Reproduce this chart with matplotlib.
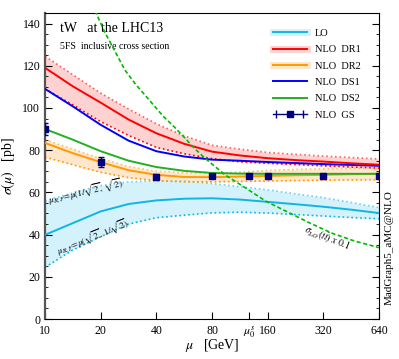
import matplotlib
matplotlib.use("Agg")
import matplotlib.pyplot as plt
from matplotlib.lines import Line2D
from matplotlib.legend_handler import HandlerLine2D, HandlerTuple
from matplotlib.ticker import MultipleLocator

plt.rcParams['font.family'] = ['Liberation Serif', 'DejaVu Serif']
plt.rcParams['mathtext.fontset'] = 'stix'

# scale grid (GeV) at half-doubling steps
mu = [10, 14.1, 20, 28.3, 40, 56.6, 80, 113, 160, 226, 320, 453, 640]

lo_c = [39.9, 45.4, 51.0, 54.5, 56.2, 57.0, 57.2, 56.6, 55.5, 54.4, 53.2, 51.8, 50.2]
lo_up = [56.0, 59.7, 63.2, 65.0, 65.5, 65.3, 64.2, 62.7, 61.2, 59.3, 57.5, 55.2, 52.8]
lo_dn = [24.5, 32.7, 39.0, 45.0, 48.0, 49.2, 50.3, 50.6, 50.2, 49.5, 48.8, 48.1, 47.5]

dr1_c = [119.0, 110.3, 102.5, 94.5, 88.0, 83.0, 79.3, 77.5, 76.2, 75.3, 74.6, 73.8, 73.1]
dr1_up = [124.5, 115.8, 107.0, 99.5, 92.5, 86.8, 82.3, 80.5, 78.9, 78.0, 77.2, 76.5, 75.8]
dr1_dn = [109.0, 101.5, 93.5, 87.0, 81.3, 78.3, 76.0, 74.5, 73.8, 73.2, 72.6, 72.0, 71.5]

dr2_c = [83.4, 78.6, 74.3, 70.5, 68.3, 67.3, 67.2, 67.5, 67.8, 68.1, 68.3, 68.6, 68.8]
dr2_up = [85.0, 80.5, 76.0, 72.3, 70.0, 69.3, 69.1, 69.6, 70.4, 70.9, 71.2, 71.4, 71.5]
dr2_dn = [76.7, 73.1, 69.5, 67.0, 65.5, 65.0, 65.0, 65.2, 65.4, 65.6, 65.8, 65.9, 66.0]

ds1 = [109.0, 100.8, 92.0, 84.5, 79.5, 77.0, 75.5, 75.0, 74.4, 73.9, 73.4, 73.0, 72.6]
ds2 = [90.0, 85.0, 79.5, 75.0, 72.0, 70.2, 69.2, 68.9, 68.8, 68.8, 68.8, 68.8, 68.8]

gs_mu = [10, 20, 40, 80, 126.7, 160, 320, 640]
gs = [90.0, 74.5, 67.5, 67.6, 67.9, 67.9, 67.9, 67.9]
gs_err = [3.0, 2.5, 1.0, 1.0, 0.8, 0.8, 0.6, 0.6]

tt_mu = [18.0, 21, 23.5, 27, 31, 34, 43.6, 50, 56, 64, 73, 94, 118, 157, 202, 270, 360, 470, 640]
tt = [149, 136, 128, 118, 111, 107, 96, 91, 86.5, 81, 76.3, 68.3, 62.8, 55.7, 51, 45.5, 40.5, 37, 33.8]

xticks = [10, 20, 40, 80, 126.7, 160, 320, 640]
xticklabels = ['10', '20', '40', '80', r'$\mu_0^s$', '160', '320', '640']

C_LO, F_LO = '#10b4e6', '#d4f2fb'
C_DR1, F_DR1 = '#ff0000', '#ffd2d2'
C_DR2, F_DR2 = '#ff9a00', '#ffe6cc'
C_DS1 = '#0000ff'
C_DS2 = '#22b022'
C_GS = '#000080'
C_TT = '#00bb00'

fig = plt.figure(figsize=(3.99, 3.59), dpi=100)
ax = fig.add_axes([0.113, 0.1114, 0.837, 0.8524])
ax.set_xscale('log')

# bands
for up, dn, fill, edge in [(lo_up, lo_dn, F_LO, C_LO),
                           (dr1_up, dr1_dn, F_DR1, C_DR1),
                           (dr2_up, dr2_dn, F_DR2, C_DR2)]:
    ax.fill_between(mu, dn, up, color=fill, lw=0, zorder=1)
    ax.plot(mu, up, ls=':', color=edge, lw=1.2, alpha=0.6, zorder=2)
    ax.plot(mu, dn, ls=':', color=edge, lw=1.2, zorder=2)

ax.plot(mu, lo_c, color=C_LO, lw=1.4, zorder=3)
ax.plot(mu, dr2_c, color=C_DR2, lw=1.4, zorder=3)
ax.plot(mu, ds2, color=C_DS2, lw=1.4, zorder=4)
ax.plot(mu, ds1, color=C_DS1, lw=1.4, zorder=4)
ax.plot(mu, dr1_c, color=C_DR1, lw=1.4, zorder=4)
ax.plot(tt_mu, tt, color=C_TT, lw=1.2, ls=(0, (2.5, 1.5)), zorder=4)
ax.errorbar(gs_mu, gs, yerr=gs_err, fmt='s', color=C_GS, ms=4.5,
            capsize=2.5, elinewidth=1, capthick=1, zorder=5)

ax.set_xlim(10, 640)
ax.set_ylim(0, 145)
ax.set_xticks(xticks)
ax.set_xticklabels(xticklabels)
ax.minorticks_off()
ax.yaxis.set_major_locator(MultipleLocator(20))
ax.yaxis.set_minor_locator(MultipleLocator(5))
ax.tick_params(axis='both', which='both', direction='in', labelsize=8.5)
ax.tick_params(axis='y', which='both', right=True)
ax.tick_params(axis='y', which='major', length=5)
ax.tick_params(axis='y', which='minor', length=2.5)
ax.tick_params(axis='x', which='major', length=5, top=False, pad=4)
ax.spines['left'].set_linewidth(1.6)
ax.spines['left'].set_color('#555555')

ax.set_xlabel(r'$\mu$   [GeV]', fontsize=10)
ax.xaxis.set_label_coords(0.5, -0.058)
ax.set_ylabel(r'$\sigma(\mu)$   [pb]', fontsize=10, labelpad=4)

ax.text(0.045, 0.948, 'tW   at the LHC13', transform=ax.transAxes,
        fontsize=10, va='center', ha='left')
ax.text(0.045, 0.889, '5FS  inclusive cross section', transform=ax.transAxes,
        fontsize=7, va='center', ha='left')

ax.text(10.6, 52.5, r'$\mu_{R,F}\!=\!\mu(1/\sqrt{2},\ \sqrt{2})$', fontsize=6.5,
        rotation=13, rotation_mode='anchor', ha='left', va='bottom')
ax.text(12.0, 28.5, r'$\mu_{R,F}\!=\!\mu(\sqrt{2},\ 1/\sqrt{2})$', fontsize=6.5,
        rotation=22, rotation_mode='anchor', ha='left', va='bottom')
ax.text(334, 38.5, r'$\sigma_{LO}(t\bar{t})\ x\ 0.1$', fontsize=7,
        rotation=-22, rotation_mode='anchor', ha='center', va='center')

fig.text(0.975, 0.31, 'MadGraph5_aMC@NLO', rotation=90, fontsize=8,
         ha='center', va='center')

# legend
def band_handle(fill, line):
    return (Line2D([], [], color=fill, lw=5), Line2D([], [], color=line, lw=1.4))

gs_line = Line2D([], [], color=C_GS, lw=1, marker='s', ms=4.5)
gs_caps = Line2D([], [], color=C_GS, lw=1, ls='none', marker='|', ms=6, mew=1)
handles = [band_handle(F_LO, C_LO), band_handle(F_DR1, C_DR1),
           band_handle(F_DR2, C_DR2),
           Line2D([], [], color=C_DS1, lw=1.4), Line2D([], [], color=C_DS2, lw=1.4),
           (gs_line, gs_caps)]
labels = ['LO', 'NLO  DR1', 'NLO  DR2', 'NLO  DS1', 'NLO  DS2', 'NLO  GS']
ax.legend(handles, labels, loc='upper left', bbox_to_anchor=(0.655, 0.98),
          frameon=False, fontsize=7.5, handlelength=3.2, labelspacing=0.68,
          handletextpad=0.8, numpoints=1,
          handler_map={tuple: HandlerTuple(ndivide=1, pad=0),
                       gs_caps: HandlerLine2D(numpoints=2)})

fig.savefig('out.png', dpi=100)
